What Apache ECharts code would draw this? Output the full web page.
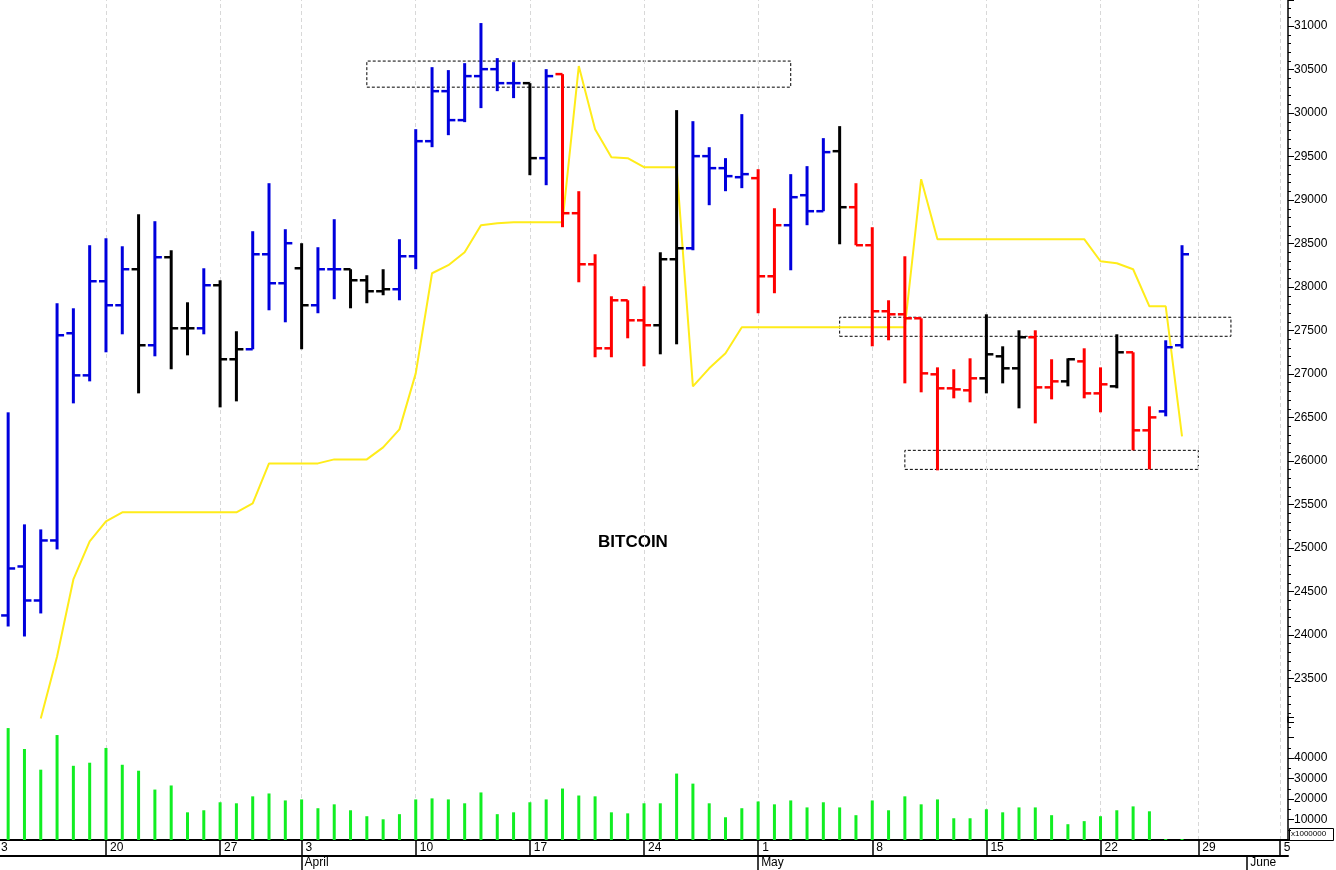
<!DOCTYPE html>
<html>
<head>
<meta charset="utf-8">
<script src="https://cdn.jsdelivr.net/npm/echarts@6/dist/echarts.min.js"></script>
<style>
  html, body { margin: 0; padding: 0; background: #fff; }
  #chart { width: 1336px; height: 870px; }
</style>
</head>
<body>
<div id="chart"></div>
<script>
// daily bars, Mar 13 .. May 27 (73 bars), then empty slots to June 5
const slotCount = 79
const openV  = [24225,24788,24397,25087,27469,26985,28067,27791,28205,27331,28343,27526,27526,28021,27170,27285,28377,28044,28216,27791,28205,28205,28078,27952,27975,28354,29677,30252,29919,30425,30505,30344,30344,29482,30448,28849,28262,27296,27848,27618,27561,28320,28446,29505,29367,29263,29252,28124,28711,29056,28872,29562,28918,28481,27722,27687,27641,26997,26836,26813,26951,27204,27066,27423,26847,26916,27146,26778,26859,27250,26353,26571,27331]
const highV  = [26560,25272,25214,27814,27756,28481,28561,28469,28837,28757,28423,27825,28216,28078,27492,28642,29194,28665,28504,28458,28780,28205,28136,28205,28550,29815,30528,30494,30574,31035,30632,30586,30344,30505,30448,29102,28377,27894,27848,28009,28400,30034,29907,29608,29482,29988,29355,28906,29298,29390,29712,29850,29194,28688,27848,28354,27641,27077,27055,27181,27687,27319,27503,27503,27170,27181,27296,27077,27457,27250,26629,27388,28481]
const lowV   = [24098,23983,24248,24984,26663,26916,27250,27457,26778,27204,27055,27215,27457,26617,26686,27285,27733,27595,27285,27699,27860,27756,27814,27906,27848,28205,29608,29746,29896,30057,30252,30172,29286,29171,28688,28055,27193,27193,27411,27089,27227,27342,28423,28941,29102,29137,27699,27929,28193,28711,28872,28492,28481,27319,27388,26893,26790,25893,26721,26675,26778,26893,26606,26433,26709,26859,26721,26560,26836,26123,25904,26514,27296]
const closeV = [24765,24397,25087,27446,26985,28067,27791,28205,27331,28343,27526,27526,28021,27170,27285,28377,28044,28504,27791,28205,28205,28078,27952,27975,28354,29677,30252,29919,30425,30505,30344,30344,29482,30425,28849,28262,27296,27848,27618,27561,28320,28446,29505,29367,29275,29298,28124,28711,29033,28872,29551,28918,28481,27722,27687,27641,27008,26836,26824,26951,27227,27066,27423,26847,26916,27170,26778,26882,27250,26353,26502,27308,28377]
// b = up (blue), r = down (red), k = neutral (black)
const barTone = 'bbbbbbbbkbkkbkkbbbkbbkkkbbbbbbbbkbrrrrrrkkbbbbrrbbbkrrrrrrrrkkkrrkrrkrrbb'.split('')
const signalLine = [null,null,23040,23753,24639,25076,25306,25410,25410,25410,25410,25410,25410,25410,25410,25513,25973,25973,25973,25973,26019,26019,26019,26157,26364,27008,28159,28251,28400,28711,28733,28745,28745,28745,28745,30540,29815,29493,29482,29378,29378,29378,26859,27066,27239,27538,27538,27538,27538,27538,27538,27538,27538,27538,27538,27538,29240,28550,28550,28550,28550,28550,28550,28550,28550,28550,28550,28297,28274,28205,27779,27779,26284]
const volume = [54600,44400,34300,51200,36200,37700,44900,36700,33800,24600,26600,13500,14500,18400,17900,21300,22700,19300,19800,15500,17400,14500,11600,10100,12600,19800,20300,19800,17900,23200,12600,13500,18400,19800,25100,21700,21300,13500,13000,17900,17900,32400,27500,17900,11100,15500,18800,17400,19300,15900,18400,15900,12100,19300,14500,21300,17400,19800,10600,10600,15000,13500,15900,15900,12100,7700,9200,11600,14500,16400,14000,500,500]
// tick labels on the date axis: slot index -> text
const dayTicks = {6: '20', 13: '27', 18: '3', 25: '10', 32: '17', 39: '24', 46: '1', 53: '8', 60: '15', 67: '22', 73: '29', 78: '5'}
const monthTicks = {18: 'April', 46: 'May', 76: 'June'}
// dashed boxes: [fromSlot, toSlot, lowPrice, highPrice]
const boxes = [[22, 48, 30298, 30598], [51, 75, 27434, 27653], [55, 73, 25904, 26123]]

const slots = []
for (let i = 0; i < slotCount; i++) slots.push(String(i))
const toneColor = {b: '#0000dd', r: '#ff0000', k: '#000000'}
const ohlc = openV.map((o, i) => [i, o, highV[i], lowV[i], closeV[i]])

const myChart = echarts.init(document.getElementById('chart'))
const font = '"Liberation Sans", Arial, sans-serif'
const isDay = i => dayTicks[i] !== undefined
const isMonth = i => monthTicks[i] !== undefined

// dashed week lines through the middle of the Monday bars
const weekLines = {
  silent: true, symbol: 'none', label: {show: false}, z: 0,
  lineStyle: {color: '#d8d8d8', type: [4, 3], width: 1},
  data: Object.keys(dayTicks).map(k => ({xAxis: k}))
}

myChart.setOption({
  animation: false,
  textStyle: {fontFamily: font},
  grid: [
    {left: 0, right: 48, top: 0, height: 722},
    {left: 0, right: 48, top: 717, height: 123}
  ],
  xAxis: [
    {
      gridIndex: 0, type: 'category', data: slots,
      axisLine: {show: false}, axisTick: {show: false}, axisLabel: {show: false},
      splitLine: {show: false}
    },
    {
      gridIndex: 1, type: 'category', data: slots,
      axisLine: {lineStyle: {color: '#000', width: 2}},
      axisTick: {show: true, alignWithLabel: true, length: 16, interval: i => isDay(i), lineStyle: {color: '#000', width: 1.5}},
      axisLabel: {
        interval: i => isDay(i), formatter: (v, i) => dayTicks[i] || '',
        align: 'left', padding: [0, 0, 0, 4], margin: 2, color: '#000', fontSize: 12
      },
      splitLine: {show: false}
    },
    {
      gridIndex: 1, type: 'category', data: slots, position: 'bottom', offset: 16,
      axisLine: {lineStyle: {color: '#000', width: 2}},
      axisTick: {show: true, alignWithLabel: true, length: 16, interval: i => isMonth(i), lineStyle: {color: '#000', width: 1.5}},
      axisLabel: {
        interval: i => isMonth(i), formatter: (v, i) => monthTicks[i] || '',
        align: 'left', padding: [0, 0, 0, 3], margin: 1, color: '#000', fontSize: 12
      }
    }
  ],
  yAxis: [
    {
      gridIndex: 0, type: 'value', position: 'right', min: 23000, max: 31300, interval: 500,
      axisLine: {show: true, lineStyle: {color: '#000', width: 1.5}},
      axisTick: {show: true, length: 6, lineStyle: {color: '#000'}},
      minorTick: {show: true, splitNumber: 5, length: 3, lineStyle: {color: '#000'}},
      axisLabel: {color: '#000', fontSize: 12, margin: 6, formatter: v => (v === 23000 || v > 31000) ? '' : String(v)},
      splitLine: {show: false}
    },
    {
      gridIndex: 1, type: 'value', position: 'right', min: 0, max: 60000, interval: 10000,
      axisLine: {show: true, lineStyle: {color: '#000', width: 1.5}},
      axisTick: {show: true, length: 6, lineStyle: {color: '#000'}},
      minorTick: {show: true, splitNumber: 2, length: 3, lineStyle: {color: '#000'}},
      axisLabel: {color: '#000', fontSize: 12, margin: 6, formatter: v => (v > 0 && v <= 40000) ? String(v) : ''},
      splitLine: {show: false}
    }
  ],
  series: [
    {
      name: 'signal', type: 'line', xAxisIndex: 0, yAxisIndex: 0,
      data: signalLine, symbol: 'none', connectNulls: false,
      lineStyle: {color: '#ffec1a', width: 2},
      markLine: weekLines,
      markArea: {
        silent: true, z: 0,
        itemStyle: {color: 'rgba(0,0,0,0)', borderColor: '#000', borderWidth: 1, borderType: [3, 2]},
        data: boxes.map(b => [{xAxis: String(b[0]), yAxis: b[2]}, {xAxis: String(b[1]), yAxis: b[3]}])
      },
      z: 1
    },
    {
      name: 'price', type: 'custom', xAxisIndex: 0, yAxisIndex: 0,
      data: ohlc,
      encode: {x: 0, y: [1, 2, 3, 4]},
      renderItem: (params, api) => {
        const i = api.value(0)
        const o = api.coord([i, api.value(1)])
        const h = api.coord([i, api.value(2)])
        const l = api.coord([i, api.value(3)])
        const c = api.coord([i, api.value(4)])
        const color = toneColor[barTone[i]]
        const w = 7
        return {
          type: 'group',
          children: [
            {type: 'line', shape: {x1: h[0], y1: h[1], x2: l[0], y2: l[1]}, style: {stroke: color, lineWidth: 3}},
            {type: 'line', shape: {x1: o[0] - w, y1: o[1], x2: o[0], y2: o[1]}, style: {stroke: color, lineWidth: 2.5}},
            {type: 'line', shape: {x1: c[0], y1: c[1], x2: c[0] + w, y2: c[1]}, style: {stroke: color, lineWidth: 2.5}}
          ]
        }
      },
      z: 3
    },
    {
      name: 'volume', type: 'bar', xAxisIndex: 1, yAxisIndex: 1,
      data: volume, barWidth: 3,
      itemStyle: {color: '#11ee22'},
      markLine: weekLines,
      z: 3
    }
  ],
  graphic: [
    {type: 'text', left: 598, top: 534, style: {text: 'BITCOIN', font: 'bold 17px ' + font, fill: '#000'}},
    {type: 'text', left: 1, top: 842, style: {text: '3', font: '12px ' + font, fill: '#000'}},
    {type: 'rect', left: 1289, top: 828, shape: {width: 44, height: 12}, style: {fill: '#fff', stroke: '#000', lineWidth: 1}},
    {type: 'text', left: 1291, top: 830, style: {text: 'x1000000', font: '8px ' + font, fill: '#000'}}
  ]
})
</script>
</body>
</html>
